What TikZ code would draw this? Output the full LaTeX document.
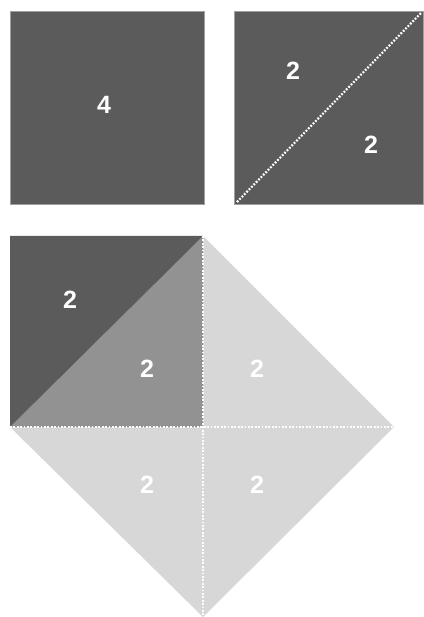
\documentclass[tikz,border=0pt]{standalone}
\usepackage{fontspec}
\setmainfont{Liberation Sans}
\usetikzlibrary{positioning}
\definecolor{tileDark}{HTML}{5B5B5B}
\definecolor{tileMid}{HTML}{929292}
\definecolor{tileLight}{HTML}{D7D7D7}
\definecolor{tileEdge}{HTML}{A0A0A0}
\begin{document}
\begin{tikzpicture}[x=1pt, y=-1pt,
    areaLabel/.style={text=white, font=\fontsize{25}{28}\selectfont\bfseries, inner sep=0pt},
    foldLine/.style={white, line width=2.2pt, dash pattern=on 1.8pt off 1.6pt},
    tileBox/.style={fill=tileDark, draw=tileEdge, line width=0.6pt},
]
\useasboundingbox (0,0) rectangle (423,617);
% first square: whole area
\draw[tileBox] (10,11) rectangle (204,204);
\node[areaLabel] (sqA) at (104,105) {4};
% second square: cut along the diagonal
\draw[tileBox] (234,11) rectangle (423,204);
\draw[foldLine] (237,202) -- (421,13);
\node[areaLabel] (sqB1) at (293,71) {2};
\node[areaLabel] (sqB2) at (371,145) {2};
% doubled square built from the halves
\fill[tileLight] (203,236) -- (394,427) -- (203,617) -- (10,427) -- cycle;
\fill[tileMid] (10,427) -- (203,236) -- (203,427) -- cycle;
\fill[tileDark] (10,236) -- (203,236) -- (10,427) -- cycle;
\draw[foldLine] (203,236) -- (203,617);
\draw[foldLine] (10,427) -- (394,427);
\node[areaLabel] (dkTri) at (70,300) {2};
\node[areaLabel] (mdTri) at (147,369) {2};
\node[areaLabel] (ltTriA) at (257,369) {2};
\node[areaLabel] (ltTriB) at (147,485) {2};
\node[areaLabel] (ltTriC) at (257,485) {2};
\end{tikzpicture}
\end{document}
